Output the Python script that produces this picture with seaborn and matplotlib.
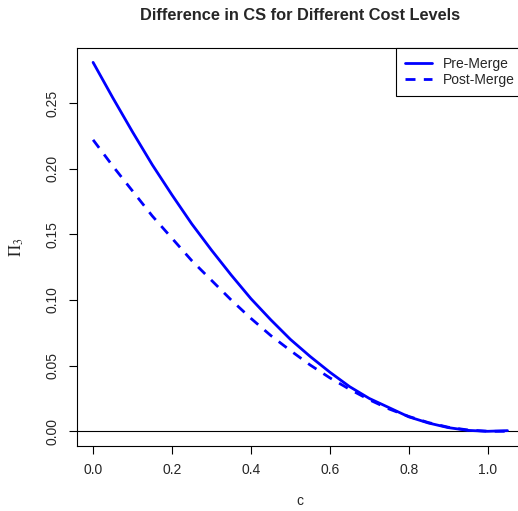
import pandas as pd
import matplotlib.pyplot as plt
import seaborn as sns

# valores
custo = [0.00, 0.05, 0.10, 0.15, 0.20, 0.25, 0.30, 0.35, 0.40, 0.45, 0.50,
         0.55, 0.60, 0.65, 0.70, 0.75, 0.80, 0.85, 0.90, 0.95, 1.00, 1.05]
pre_merge = [0.281, 0.254, 0.228, 0.203, 0.180, 0.158, 0.138, 0.119, 0.101, 0.085, 0.070,
             0.057, 0.045, 0.034, 0.025, 0.018, 0.011, 0.0063, 0.0028, 0.0007, 0.0, 0.0005]
post_merge = [0.222, 0.202, 0.183, 0.164, 0.147, 0.130, 0.115, 0.100, 0.086, 0.073, 0.0615,
              0.0505, 0.0407, 0.032, 0.024, 0.017, 0.0113, 0.0066, 0.0031, 0.0010, 0.0, 0.0]
x_ticks = [0.0, 0.2, 0.4, 0.6, 0.8, 1.0]
y_ticks = [0.00, 0.05, 0.10, 0.15, 0.20, 0.25]

sns.set_style('white')
plt.rcParams['font.family'] = ['Liberation Sans', 'DejaVu Sans']
plt.rcParams['mathtext.fontset'] = 'stix'

df = pd.DataFrame({'c': custo, 'pre': pre_merge, 'post': post_merge})

fig = plt.figure(figsize=(5.18, 5.11), dpi=100)
ax = fig.add_axes([0.1477, 0.1272, 0.864, 0.779])

ax.axhline(0, color='black', lw=0.8, zorder=1)
sns.lineplot(data=df, x='c', y='pre', color='blue', lw=2, label='Pre-Merge', ax=ax)
sns.lineplot(data=df, x='c', y='post', color='blue', lw=2, linestyle=(0, (3.6, 3)),
             label='Post-Merge', ax=ax)

ax.set_xlim(-0.042, 1.092)
ax.set_ylim(-0.0112, 0.292)
ax.set_xticks(x_ticks)
ax.set_xticklabels([f'{v:.1f}' for v in x_ticks])
ax.set_yticks(y_ticks)
ax.set_yticklabels([f'{v:.2f}' for v in y_ticks])
ax.tick_params(axis='both', direction='out', length=5.5, width=0.8, color='black',
               labelsize=10, pad=7, bottom=True, left=True)
ax.tick_params(axis='y', labelrotation=90)
for lab in ax.get_yticklabels():
    lab.set_va('center')

for s in ax.spines.values():
    s.set_color('black')
    s.set_linewidth(0.8)

ax.set_title('Difference in CS for Different Cost Levels', fontsize=11.8,
             fontweight='bold', pad=20)
ax.set_xlabel('c', fontsize=10, labelpad=12)
ax.set_ylabel(r'$\Pi_3$', fontsize=12, labelpad=14)

leg = ax.legend(loc='upper right', borderaxespad=0, fontsize=10, handlelength=1.95,
                handletextpad=0.8, fancybox=False, framealpha=1, edgecolor='black',
                labelspacing=0.15, borderpad=0.65)
leg.get_frame().set_linewidth(0.8)

plt.savefig('out.png', dpi=100)
plt.close()
